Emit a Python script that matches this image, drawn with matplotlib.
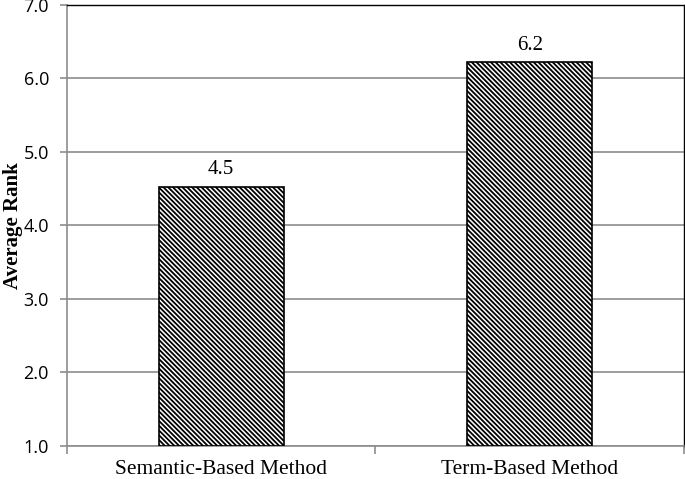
import matplotlib.pyplot as plt
import numpy as np

# data
methods = ['Semantic-Based Method', 'Term-Based Method']
avg_rank = [4.53, 6.22]
bar_labels = ['4.5', '6.2']
yticks = [1.0, 2.0, 3.0, 4.0, 5.0, 6.0, 7.0]

plt.rcParams['hatch.linewidth'] = 1.3
plt.rcParams['hatch.color'] = 'black'

fig = plt.figure(figsize=(6.85, 4.79), dpi=100)
ax = fig.add_axes([0.0978, 0.0689, 0.9007, 0.9207])

x = np.arange(len(methods))
bars = ax.bar(x, [v - 1.0 for v in avg_rank], bottom=1.0, width=0.405,
              color='white', edgecolor='black', linewidth=1.2,
              hatch='\\' * 7, zorder=3)

for xi, v, lab in zip(x, avg_rank, bar_labels):
    ax.text(xi, v + 0.165, lab, ha='center', va='baseline',
            family='Liberation Serif', fontsize=15)

ax.set_ylim(1.0, 7.0)
ax.set_xlim(-0.5, 1.5)
ax.set_yticks(yticks)
ax.set_yticklabels(['%.1f' % t for t in yticks], family='Open Sans', fontsize=13)
ax.yaxis.grid(True, color='#8c8c8c', linewidth=1.2, zorder=0)

ax.set_xticks([-0.5, 0.5, 1.5])
ax.set_xticklabels([])
ax.set_xticks(x, minor=True)
ax.set_xticklabels(methods, minor=True, family='Liberation Serif', fontsize=15.5)
ax.tick_params(axis='x', which='major', length=6, color='#8c8c8c', width=1.2)
ax.tick_params(axis='x', which='minor', length=0, pad=10)
ax.tick_params(axis='y', length=5, color='#8c8c8c', width=1.2, pad=8)

ax.set_ylabel('Average Rank', family='Liberation Serif', fontweight='bold',
              fontsize=15)
ax.yaxis.set_label_coords(-0.071, 0.5)

for side in ['left', 'bottom']:
    ax.spines[side].set_color('#8c8c8c')
    ax.spines[side].set_linewidth(1.2)
for side in ['top', 'right']:
    ax.spines[side].set_color('black')
    ax.spines[side].set_linewidth(1.0)

fig.savefig('out.png', dpi=100)
